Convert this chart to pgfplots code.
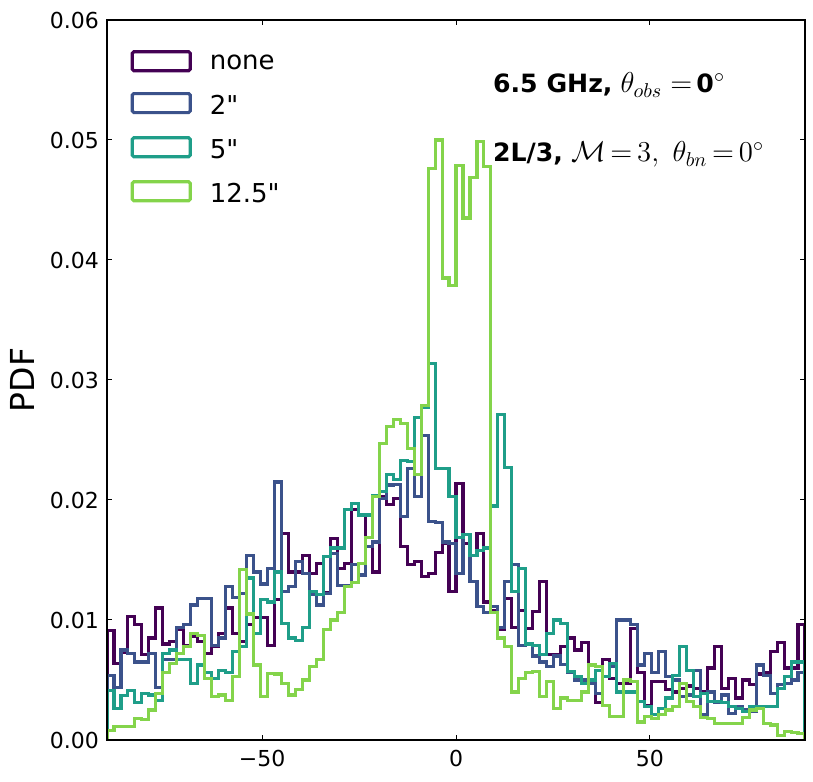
\documentclass[border=0pt]{standalone}
\usepackage[no-math]{fontspec}
\setmainfont{DejaVu Sans}[Ligatures=TeXOff]
\usepackage{pgfplots}
\usepackage{pgfplotstable}
\pgfplotsset{compat=1.18}
\definecolor{cA}{HTML}{440154}
\definecolor{cB}{HTML}{3B528B}
\definecolor{cC}{HTML}{1F9E89}
\definecolor{cD}{HTML}{84D44B}

\pgfplotstableread{
x a b c d
-90 0 0 0 0
-90 0.0091 0.0054 0.0041 0.0008
-88.2 0.0064 0.0044 0.0026 0.0011
-86.4 0.0073 0.0075 0.0037 0.0011
-84.6 0.0103 0.0072 0.0041 0.0011
-82.8 0.0096 0.0065 0.0031 0.0018
-81 0.0071 0.0065 0.0039 0.0017
-79.2 0.0085 0.0072 0.00375 0.0025
-77.4 0.0110 0.0044 0.0033 0.0039
-75.6 0.0080 0.0067 0.0072 0.0056
-73.8 0.0082 0.0067 0.0075 0.0064
-72 0.0092 0.0094 0.0067 0.0072
-70.2 0.0079 0.0096 0.0067 0.0078
-68.4 0.0086 0.01125 0.0047 0.0089
-66.6 0.0082 0.0118 0.00625 0.0087
-64.8 0.0072 0.0118 0.0056 0.0051
-63 0.0078 0.0079 0.0051 0.0036
-61.2 0.0089 0.0085 0.0058 0.00375
-59.4 0.0110 0.0128 0.0056 0.0033
-57.6 0.0089 0.0119 0.0074 0.0053
-55.8 0.0082 0.0122 0.0078 0.0142
-54 0.0096 0.0154 0.0135 0.0105
-52.2 0.0102 0.0140 0.0089 0.00625
-50.4 0.0102 0.0130 0.0117 0.0036
-48.6 0.0079 0.0143 0.0115 0.00555
-46.8 0.0117 0.0215 0.0140 0.0055
-45 0.0172 0.0124 0.0097 0.0047
-43.2 0.0140 0.0128 0.0085 0.00375
-41.4 0.0140 0.0149 0.0083 0.0042
-39.6 0.0154 0.0139 0.0094 0.0050
-37.8 0.0139 0.0121 0.0124 0.0061
-36 0.0147 0.01125 0.0121 0.0067
-34.2 0.0123 0.0122 0.0153 0.0092
-32.4 0.0168 0.01555 0.0160 0.0100
-30.6 0.0143 0.0129 0.0160 0.0106
-28.8 0.0147 0.0129 0.0192 0.0128
-27 0.0192 0.0146 0.0197 0.0131
-25.2 0.0187 0.01375 0.01875 0.0147
-23.4 0.0161 0.0161 0.01875 0.0169
-21.6 0.0140 0.0165 0.0204 0.0203
-19.8 0.0203 0.0201 0.0207 0.0247
-18 0.0196 0.02125 0.0221 0.0261
-16.2 0.0201 0.0213 0.0217 0.0267
-14.4 0.0161 0.0186 0.0233 0.0264
-12.6 0.0146 0.0226 0.0232 0.0243
-10.8 0.0149 0.0203 0.0269 0.0221
-9 0.0136 0.0254 0.0277 0.0279
-7.2 0.0139 0.0182 0.0314 0.0476
-5.4 0.0156 0.0181 0.0226 0.0500
-3.6 0.0164 0.0165 0.0226 0.0385
-1.8 0.0124 0.0164 0.0203 0.0379
0 0.0214 0.0139 0.0169 0.0479
1.8 0.0164 0.0171 0.0171 0.0435
3.6 0.0154 0.0132 0.0154 0.0469
5.4 0.0172 0.0111 0.0158 0.0499
7.2 0.0115 0.0106 0.0160 0.0478
9 0.0108 0.0111 0.0195 0.0106
10.8 0.0092 0.0094 0.0271 0.0085
12.6 0.0118 0.0132 0.0227 0.0078
14.4 0.0094 0.0146 0.0124 0.0040
16.2 0.0108 0.0079 0.0143 0.0051
18 0.0093 0.0080 0.0080 0.0056
19.8 0.0107 0.0070 0.0079 0.0057
21.6 0.0132 0.0065 0.0071 0.0036
23.4 0.0071 0.0061 0.0089 0.0049
25.2 0.0071 0.0070 0.0100 0.0026
27 0.0078 0.0063 0.0097 0.0035
28.8 0.0085 0.0056 0.0057 0.0033
30.6 0.0075 0.0050 0.0053 0.0033
32.4 0.0081 0.0050 0.0047 0.0040
34.2 0.0049 0.0047 0.0050 0.00625
36 0.0031 0.0039 0.0058 0.0061
37.8 0.0067 0.0053 0.0053 0.0029
39.6 0.0051 0.0061 0.0064 0.00195
41.4 0.0047 0.0100 0.0040 0.00195
43.2 0.0047 0.0100 0.0040 0.0050
45 0.0093 0.0096 0.0040 0.0049
46.8 0.0056 0.00625 0.0032 0.0015
48.6 0.0029 0.0072 0.0028 0.00195
50.4 0.0049 0.0056 0.0021 0.0018
52.2 0.0049 0.0074 0.0026 0.0021
54 0.0042 0.0053 0.0035 0.0025
55.8 0.0040 0.0050 0.0054 0.0028
57.6 0.0043 0.0036 0.0078 0.0047
59.4 0.0045 0.00375 0.0058 0.0032
61.2 0.0043 0.0058 0.0036 0.0028
63 0.0040 0.0021 0.0039 0.0019
64.8 0.0060 0.0040 0.0032 0.0018
66.6 0.0078 0.0031 0.0032 0.0014
68.4 0.0043 0.00375 0.0031 0.0014
70.2 0.0051 0.0022 0.0028 0.0014
72 0.0035 0.0028 0.0026 0.0014
73.8 0.0050 0.0025 0.0024 0.0019
75.6 0.0046 0.0024 0.0028 0.0025
77.4 0.0055 0.00625 0.0028 0.0026
79.2 0.0056 0.0054 0.0028 0.0014
81 0.0074 0.0039 0.0028 0.00125
82.8 0.0081 0.0046 0.0043 0.0004
84.6 0.0060 0.0047 0.0053 0.0007
86.4 0.0060 0.0050 0.0065 0.0006
88.2 0.0096 0.0056 0.0065 0.00055
90 0.0096 0.0056 0.0065 0.00055
90 0 0 0 0
}\hist

\begin{document}
\begin{tikzpicture}
\useasboundingbox (-53.5pt,-20.5pt) rectangle (353pt,370pt);
\begin{axis}[
  at={(0pt,0pt)}, anchor=south west,
  scale only axis, width=349pt, height=360pt,
  xmin=-90, xmax=90, ymin=0, ymax=0.06,
  xtick={-50,0,50}, xticklabels={−50,0,50},
  ytick={0,0.01,0.02,0.03,0.04,0.05,0.06},
  yticklabels={0.00,0.01,0.02,0.03,0.04,0.05,0.06},
  scaled y ticks=false,
  tick align=inside, major tick length=2.5pt, tick pos=both,
  tick style={black, line width=0.5pt},
  axis line style={black, line width=0.6pt},
  axis on top,
  ticklabel style={font=\fontsize{11}{13}\selectfont},
  xticklabel style={inner sep=0pt, yshift=-5pt},
  yticklabel style={inner sep=0pt, xshift=-3.85pt},
  ylabel={PDF},
  ylabel style={at={(axis description cs:-0.1032,0.5)}, anchor=south, inner sep=0pt, font=\fontsize{16.5}{19}\selectfont},
  legend cell align=left,
  legend style={draw=none, fill=none, at={(rel axis cs:0.034,0.9581)}, anchor=north west,
    inner sep=0pt, outer sep=0pt, row sep=9.5pt, column sep=9pt,
    font=\fontsize{13}{15.6}\selectfont, nodes={inner sep=0pt}},
  legend image code/.code={\draw[#1, line width=1.55pt, rounded corners=0.8pt] (0pt,-3.25pt) rectangle (29pt,6.25pt);},
]
\addplot[cA, line width=1.55pt, const plot] table[x=x, y=a]{\hist};
\addlegendentry{none}
\addplot[cB, line width=1.55pt, const plot] table[x=x, y=b]{\hist};
\addlegendentry{2"}
\addplot[cC, line width=1.55pt, const plot] table[x=x, y=c]{\hist};
\addlegendentry{5"}
\addplot[cD, line width=1.55pt, const plot] table[x=x, y=d]{\hist};
\addlegendentry{12.5"}
\node[anchor=base west, inner sep=0pt, font=\fontsize{12.6}{15}\selectfont] at (rel axis cs:0.5526,0.899) {\textbf{6.5 GHz,} {\fontsize{13.8}{16}\selectfont$\theta_{obs}=$}\,\textbf{0}{\fontsize{13.8}{16}\selectfont$^{\circ}$}};
\node[anchor=base west, inner sep=0pt, font=\fontsize{12.6}{15}\selectfont] at (rel axis cs:0.5526,0.803) {\textbf{2L/3,} {\fontsize{13.8}{16}\selectfont$\mathcal{M}\,{=}\,3,\ \theta_{bn}\,{=}\,0^{\circ}$}};
\end{axis}
\end{tikzpicture}
\end{document}
